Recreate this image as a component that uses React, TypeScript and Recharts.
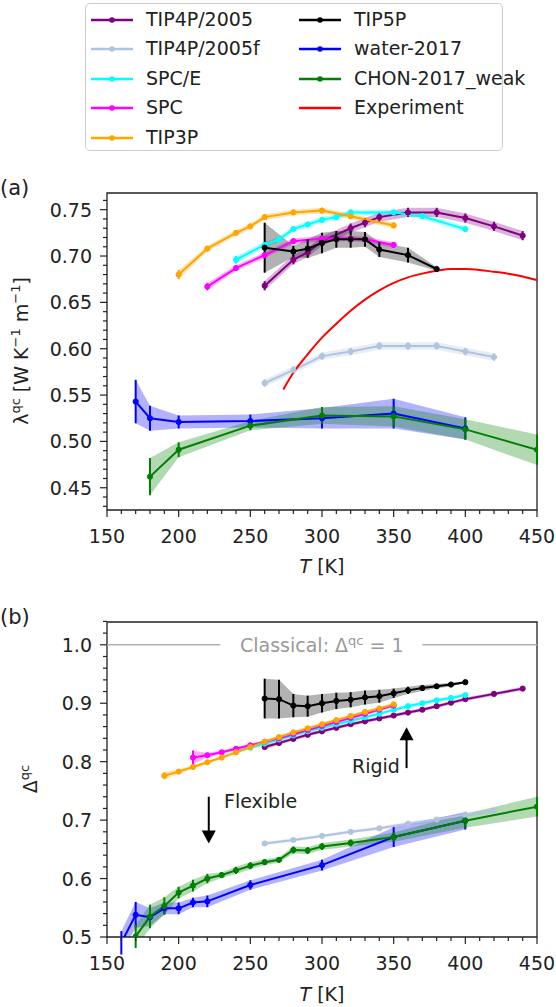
import React from "react";
import {
  Area,
  ComposedChart,
  ErrorBar,
  Line,
  ReferenceArea,
  ReferenceDot,
  ReferenceLine,
  XAxis,
  YAxis,
} from "recharts";

const FONT = "'DejaVu Sans', 'Liberation Sans', sans-serif";
const INK = "#222";

const PURPLE = "#800080";
const STEEL = "#b0c4de";
const CYAN = "#00ffff";
const MAGENTA = "#ff00ff";
const ORANGE = "#ffa500";
const BLACK = "#000000";
const BLUE = "#0000ff";
const GREEN = "#008000";
const RED = "#ff0000";

// ticks
const X_MAJOR = [150, 200, 250, 300, 350, 400, 450];
const A_Y_MAJOR = [0.45, 0.5, 0.55, 0.6, 0.65, 0.7, 0.75];
const B_Y_MAJOR = [0.5, 0.6, 0.7, 0.8, 0.9, 1.0];
const X_DOMAIN: [number, number] = [150, 450];
const A_Y_DOMAIN: [number, number] = [0.426, 0.768];
const B_Y_DOMAIN: [number, number] = [0.5, 1.039];

// (a) lambda^qc
const A_TIP4P_T = [260, 280, 290, 300, 320, 330, 340, 360, 380, 400, 420, 440];
const A_TIP4P_V = [0.668, 0.696, 0.704, 0.716, 0.73, 0.736, 0.742, 0.747, 0.747, 0.741, 0.732, 0.722];
const A_TIP4P_E = [0.005, 0.005, 0.005, 0.005, 0.005, 0.005, 0.005, 0.005, 0.005, 0.005, 0.005, 0.005];

const A_TIP4PF_T = [260, 280, 300, 320, 340, 360, 380, 400, 420];
const A_TIP4PF_V = [0.563, 0.577, 0.592, 0.597, 0.603, 0.603, 0.603, 0.597, 0.591];
const A_TIP4PF_E = [0.004, 0.004, 0.004, 0.004, 0.004, 0.004, 0.004, 0.004, 0.004];

const A_SPCE_T = [240, 260, 270, 280, 290, 300, 310, 320, 350, 370, 400];
const A_SPCE_V = [0.696, 0.712, 0.718, 0.729, 0.734, 0.739, 0.742, 0.747, 0.747, 0.743, 0.729];
const A_SPCE_E = [0.004, 0.003, 0.003, 0.003, 0.003, 0.003, 0.003, 0.003, 0.003, 0.003, 0.003];

const A_SPC_T = [220, 240, 260, 280, 300, 320, 330, 350];
const A_SPC_V = [0.667, 0.687, 0.701, 0.716, 0.719, 0.719, 0.718, 0.712];
const A_SPC_E = [0.004, 0.003, 0.003, 0.003, 0.003, 0.003, 0.003, 0.003];

const A_TIP3P_T = [200, 220, 240, 250, 260, 280, 300, 320, 350];
const A_TIP3P_V = [0.68, 0.708, 0.725, 0.732, 0.742, 0.747, 0.749, 0.743, 0.733];
const A_TIP3P_E = [0.005, 0.003, 0.003, 0.003, 0.003, 0.003, 0.003, 0.003, 0.003];

const A_TIP5P_T = [260, 280, 290, 300, 310, 320, 330, 340, 360, 380];
const A_TIP5P_V = [0.709, 0.705, 0.708, 0.714, 0.718, 0.718, 0.718, 0.707, 0.701, 0.686];
const A_TIP5P_E = [0.027, 0.006, 0.01, 0.011, 0.009, 0.009, 0.008, 0.008, 0.008, 0.002];

const A_W17_T = [170, 180, 200, 250, 300, 350, 400];
const A_W17_V = [0.543, 0.525, 0.521, 0.522, 0.525, 0.53, 0.514];
const A_W17_E = [0.0235, 0.0135, 0.007, 0.007, 0.011, 0.016, 0.012];

const A_CHON_T = [180, 200, 250, 300, 350, 400, 450];
const A_CHON_V = [0.462, 0.491, 0.517, 0.528, 0.527, 0.513, 0.491];
const A_CHON_E = [0.02, 0.008, 0.005, 0.009, 0.011, 0.011, 0.0165];

const A_EXP_T = [273, 280, 290, 300, 310, 320, 330, 340, 350, 360, 370, 380, 390, 400, 410, 420, 430, 440, 450];
const A_EXP_V = [0.556, 0.574, 0.594, 0.612, 0.627, 0.641, 0.653, 0.663, 0.671, 0.677, 0.681, 0.684, 0.686, 0.686, 0.685, 0.683, 0.681, 0.678, 0.674];

// (b) Delta^qc
const B_TIP4P_T = [260, 270, 280, 290, 300, 310, 320, 330, 340, 350, 360, 370, 380, 390, 400, 420, 440];
const B_TIP4P_V = [0.825, 0.832, 0.839, 0.846, 0.852, 0.858, 0.864, 0.869, 0.874, 0.879, 0.884, 0.889, 0.895, 0.901, 0.907, 0.916, 0.925];
const B_TIP4P_E = [0.004, 0.003, 0.003, 0.003, 0.003, 0.003, 0.003, 0.003, 0.003, 0.003, 0.003, 0.003, 0.003, 0.003, 0.003, 0.003, 0.003];

const B_TIP4PF_T = [260, 280, 300, 320, 340, 360, 380, 400, 420];
const B_TIP4PF_V = [0.66, 0.666, 0.673, 0.68, 0.686, 0.694, 0.701, 0.709, 0.716];
const B_TIP4PF_E = [0.003, 0.003, 0.003, 0.003, 0.003, 0.003, 0.003, 0.003, 0.003];

const B_SPCE_T = [240, 250, 260, 270, 280, 290, 300, 310, 320, 330, 340, 350, 360, 370, 380, 390, 400];
const B_SPCE_V = [0.817, 0.824, 0.831, 0.838, 0.845, 0.852, 0.858, 0.864, 0.87, 0.876, 0.882, 0.889, 0.895, 0.9, 0.905, 0.909, 0.914];
const B_SPCE_E = [0.003, 0.003, 0.003, 0.003, 0.003, 0.003, 0.003, 0.003, 0.003, 0.003, 0.003, 0.003, 0.003, 0.003, 0.003, 0.003, 0.003];

const B_SPC_T = [210, 220, 230, 240, 250, 260, 270, 280, 290, 300, 310, 320, 330, 340, 350];
const B_SPC_V = [0.807, 0.811, 0.816, 0.822, 0.828, 0.834, 0.84, 0.847, 0.854, 0.861, 0.868, 0.875, 0.882, 0.889, 0.896];
const B_SPC_E = [0.012, 0.004, 0.003, 0.003, 0.003, 0.003, 0.003, 0.003, 0.003, 0.003, 0.003, 0.003, 0.003, 0.003, 0.003];

const B_TIP3P_T = [190, 200, 210, 220, 230, 240, 250, 260, 270, 280, 290, 300, 310, 320, 330, 340, 350];
const B_TIP3P_V = [0.776, 0.783, 0.791, 0.799, 0.807, 0.816, 0.825, 0.834, 0.842, 0.85, 0.857, 0.864, 0.871, 0.878, 0.885, 0.891, 0.898];
const B_TIP3P_E = [0.006, 0.004, 0.003, 0.003, 0.003, 0.003, 0.003, 0.003, 0.003, 0.003, 0.003, 0.003, 0.003, 0.003, 0.003, 0.003, 0.003];

const B_TIP5P_T = [260, 270, 280, 290, 300, 310, 320, 330, 340, 350, 360, 370, 380, 390, 400];
const B_TIP5P_V = [0.908, 0.907, 0.896, 0.895, 0.9, 0.904, 0.906, 0.91, 0.912, 0.917, 0.922, 0.926, 0.929, 0.932, 0.936];
const B_TIP5P_E = [0.034, 0.033, 0.02, 0.018, 0.016, 0.014, 0.013, 0.012, 0.011, 0.008, 0.006, 0.005, 0.004, 0.003, 0.002];

const B_W17_T = [160, 170, 180, 190, 200, 210, 220, 250, 300, 350, 400];
const B_W17_V = [0.49, 0.538, 0.534, 0.549, 0.549, 0.559, 0.561, 0.589, 0.623, 0.671, 0.699];
const B_W17_E = [0.02, 0.022, 0.015, 0.01, 0.01, 0.008, 0.01, 0.008, 0.009, 0.017, 0.015];

const B_CHON_T = [170, 180, 190, 200, 210, 220, 230, 240, 250, 260, 270, 280, 290, 300, 320, 350, 400, 450];
const B_CHON_V = [0.501, 0.535, 0.553, 0.576, 0.588, 0.6, 0.606, 0.614, 0.622, 0.628, 0.632, 0.649, 0.648, 0.655, 0.661, 0.671, 0.699, 0.723];
const B_CHON_E = [0.02, 0.02, 0.015, 0.01, 0.01, 0.008, 0.005, 0.006, 0.006, 0.005, 0.005, 0.006, 0.006, 0.006, 0.006, 0.008, 0.012, 0.017];

// annotations in (b), data coordinates
const CLASSICAL_LEFT = [150, 229];
const CLASSICAL_RIGHT = [370, 450];
const FLEX_ARROW = { t: 221, from: 0.74, to: 0.66 };
const RIGID_ARROW = { t: 359, from: 0.789, to: 0.859 };

const LEGEND = [
  { name: "TIP4P/2005", color: PURPLE, dot: true },
  { name: "TIP4P/2005f", color: STEEL, dot: true },
  { name: "SPC/E", color: CYAN, dot: true },
  { name: "SPC", color: MAGENTA, dot: true },
  { name: "TIP3P", color: ORANGE, dot: true },
  { name: "TIP5P", color: BLACK, dot: true },
  { name: "water-2017", color: BLUE, dot: true },
  { name: "CHON-2017_weak", color: GREEN, dot: true },
  { name: "Experiment", color: RED, dot: false },
];

type Row = { t: number; v: number; e: number; band: [number, number] };
const rows = (t: number[], v: number[], e: number[]): Row[] =>
  t.map((x, i) => ({ t: x, v: v[i], e: e[i], band: [v[i] - e[i], v[i] + e[i]] }));

type Series = { key: string; color: string; data: Row[] };

const SERIES_A: Series[] = [
  { key: "tip4p", color: PURPLE, data: rows(A_TIP4P_T, A_TIP4P_V, A_TIP4P_E) },
  { key: "tip4pf", color: STEEL, data: rows(A_TIP4PF_T, A_TIP4PF_V, A_TIP4PF_E) },
  { key: "spce", color: CYAN, data: rows(A_SPCE_T, A_SPCE_V, A_SPCE_E) },
  { key: "spc", color: MAGENTA, data: rows(A_SPC_T, A_SPC_V, A_SPC_E) },
  { key: "tip3p", color: ORANGE, data: rows(A_TIP3P_T, A_TIP3P_V, A_TIP3P_E) },
  { key: "tip5p", color: BLACK, data: rows(A_TIP5P_T, A_TIP5P_V, A_TIP5P_E) },
  { key: "w17", color: BLUE, data: rows(A_W17_T, A_W17_V, A_W17_E) },
  { key: "chon", color: GREEN, data: rows(A_CHON_T, A_CHON_V, A_CHON_E) },
];
const EXP_A = A_EXP_T.map((t, i) => ({ t, v: A_EXP_V[i] }));

const SERIES_B: Series[] = [
  { key: "tip4p", color: PURPLE, data: rows(B_TIP4P_T, B_TIP4P_V, B_TIP4P_E) },
  { key: "tip4pf", color: STEEL, data: rows(B_TIP4PF_T, B_TIP4PF_V, B_TIP4PF_E) },
  { key: "spce", color: CYAN, data: rows(B_SPCE_T, B_SPCE_V, B_SPCE_E) },
  { key: "spc", color: MAGENTA, data: rows(B_SPC_T, B_SPC_V, B_SPC_E) },
  { key: "tip3p", color: ORANGE, data: rows(B_TIP3P_T, B_TIP3P_V, B_TIP3P_E) },
  { key: "tip5p", color: BLACK, data: rows(B_TIP5P_T, B_TIP5P_V, B_TIP5P_E) },
  { key: "w17", color: BLUE, data: rows(B_W17_T, B_W17_V, B_W17_E) },
  { key: "chon", color: GREEN, data: rows(B_CHON_T, B_CHON_V, B_CHON_E) },
];

const steps = (a: number, b: number, s: number) => {
  const out: number[] = [];
  for (let v = a; v <= b + 1e-9; v += s) out.push(Math.round(v * 1000) / 1000);
  return out;
};
const X_TICKS = steps(150, 450, 10);
const A_Y_TICKS = steps(0.43, 0.76, 0.01);
const B_Y_TICKS = steps(0.5, 1.04, 0.02);

const isIn = (list: number[], v: number) => list.some((m) => Math.abs(m - v) < 1e-6);

const XTick = (p: any) => {
  const v = p.payload.value;
  const major = isIn(X_MAJOR, v);
  return (
    <g>
      <line x1={p.x} x2={p.x} y1={p.y} y2={p.y + (major ? 7 : 4)} stroke={INK} strokeWidth={1.2} />
      {major && (
        <text x={p.x} y={p.y + 33} textAnchor="middle" fontSize={19} fontFamily={FONT} fill={INK}>
          {v}
        </text>
      )}
    </g>
  );
};

const makeYTick = (majors: number[], digits: number) => (p: any) => {
  const v = p.payload.value;
  const major = isIn(majors, v);
  return (
    <g>
      <line x1={p.x} x2={p.x - (major ? 7 : 4)} y1={p.y} y2={p.y} stroke={INK} strokeWidth={1.2} />
      {major && (
        <text x={p.x - 15} y={p.y + 7} textAnchor="end" fontSize={19} fontFamily={FONT} fill={INK}>
          {v.toFixed(digits)}
        </text>
      )}
    </g>
  );
};

const renderSeries = (list: Series[]) =>
  list.flatMap((s) => [
    <Area
      key={`${s.key}-band`}
      data={s.data}
      dataKey="band"
      type="linear"
      stroke="none"
      fill={s.color}
      fillOpacity={0.3}
      isAnimationActive={false}
    />,
    <Line
      key={`${s.key}-line`}
      data={s.data}
      dataKey="v"
      type="linear"
      stroke={s.color}
      strokeWidth={2}
      dot={{ r: 2.6, fill: s.color, stroke: s.color, strokeWidth: 1 }}
      isAnimationActive={false}
    >
      <ErrorBar dataKey="e" width={0} stroke={s.color} strokeWidth={2} direction="y" />
    </Line>,
  ]);

const ArrowHead = (down: boolean) => (p: any) => {
  const { cx, cy } = p;
  const h = 13;
  const w = 7;
  const base = down ? cy - h : cy + h;
  return <polygon points={`${cx},${cy} ${cx - w},${base} ${cx + w},${base}`} fill={BLACK} />;
};

const abs = (left: number, top: number, extra: React.CSSProperties = {}): React.CSSProperties => ({
  position: "absolute",
  left,
  top,
  fontFamily: FONT,
  fontSize: 19,
  color: INK,
  whiteSpace: "nowrap",
  lineHeight: 1,
  ...extra,
});

function Legend() {
  return (
    <div
      style={{
        position: "absolute",
        left: 85,
        top: 3,
        width: 416,
        height: 146,
        border: "1px solid #cccccc",
        borderRadius: 5,
        background: "rgba(255,255,255,0.8)",
      }}
    >
      {LEGEND.map((l, i) => {
        const col = i < 5 ? 0 : 1;
        const row = i < 5 ? i : i - 5;
        const cy = 15.5 + row * 29.5;
        const hx = col === 0 ? 5 : 213;
        return (
          <div key={l.name}>
            <svg style={{ position: "absolute", left: hx, top: cy - 6 }} width={42} height={12}>
              <line x1={0} x2={42} y1={6} y2={6} stroke={l.color} strokeWidth={2.5} />
              {l.dot && <circle cx={21} cy={6} r={2.8} fill={l.color} />}
            </svg>
            <span style={abs(hx + 55, cy - 10)}>{l.name}</span>
          </div>
        );
      })}
    </div>
  );
}

export default function App() {
  return (
    <div style={{ position: "absolute", left: 0, top: 0, width: 556, height: 1007, background: "#fff" }}>
      <Legend />

      {/* (a) */}
      <span style={abs(0, 178, { fontSize: 21 })}>(a)</span>
      <div style={{ position: "absolute", left: 0, top: 160 }}>
        <ComposedChart width={556} height={410} margin={{ top: 33, right: 19, bottom: 59, left: 106 }}>
          <XAxis
            dataKey="t"
            type="number"
            domain={X_DOMAIN}
            allowDataOverflow
            ticks={X_TICKS}
            interval={0}
            height={1}
            tickSize={0}
            tickMargin={0}
            tickLine={false}
            axisLine={false}
            tick={XTick}
          />
          <YAxis
            type="number"
            domain={A_Y_DOMAIN}
            allowDataOverflow
            ticks={A_Y_TICKS}
            interval={0}
            width={1}
            tickSize={0}
            tickMargin={0}
            tickLine={false}
            axisLine={false}
            tick={makeYTick(A_Y_MAJOR, 2)}
          />
          {renderSeries(SERIES_A)}
          <Line
            data={EXP_A}
            dataKey="v"
            type="monotone"
            stroke={RED}
            strokeWidth={2}
            dot={false}
            isAnimationActive={false}
          />
          <ReferenceArea
            x1={X_DOMAIN[0]}
            x2={X_DOMAIN[1]}
            y1={A_Y_DOMAIN[0]}
            y2={A_Y_DOMAIN[1]}
            fill="none"
            fillOpacity={0}
            stroke={INK}
            strokeWidth={1.3}
          />
        </ComposedChart>
      </div>
      <div
        style={abs(20, 351, {
          transform: "translate(-50%, -50%) rotate(-90deg)",
        })}
      >
        λ<sup style={{ fontSize: 13 }}>qc</sup> [W K<sup style={{ fontSize: 13 }}>−1</sup> m<sup style={{ fontSize: 13 }}>−1</sup>]
      </div>
      <div style={abs(322, 566, { transform: "translate(-50%, -50%)" })}>
        <i>T</i> [K]
      </div>

      {/* (b) */}
      <span style={abs(0, 607, { fontSize: 21 })}>(b)</span>
      <div style={{ position: "absolute", left: 0, top: 590 }}>
        <ComposedChart width={556} height={417} margin={{ top: 32, right: 19, bottom: 69, left: 106 }}>
          <XAxis
            dataKey="t"
            type="number"
            domain={X_DOMAIN}
            allowDataOverflow
            ticks={X_TICKS}
            interval={0}
            height={1}
            tickSize={0}
            tickMargin={0}
            tickLine={false}
            axisLine={false}
            tick={XTick}
          />
          <YAxis
            type="number"
            domain={B_Y_DOMAIN}
            allowDataOverflow
            ticks={B_Y_TICKS}
            interval={0}
            width={1}
            tickSize={0}
            tickMargin={0}
            tickLine={false}
            axisLine={false}
            tick={makeYTick(B_Y_MAJOR, 1)}
          />
          <ReferenceLine
            segment={[{ x: CLASSICAL_LEFT[0], y: 1 }, { x: CLASSICAL_LEFT[1], y: 1 }]}
            stroke="#b0b0b0"
            strokeWidth={1.5}
          />
          <ReferenceLine
            segment={[{ x: CLASSICAL_RIGHT[0], y: 1 }, { x: CLASSICAL_RIGHT[1], y: 1 }]}
            stroke="#b0b0b0"
            strokeWidth={1.5}
          />
          {renderSeries(SERIES_B)}
          <ReferenceLine
            segment={[{ x: FLEX_ARROW.t, y: FLEX_ARROW.from }, { x: FLEX_ARROW.t, y: FLEX_ARROW.to + 0.02 }]}
            stroke={BLACK}
            strokeWidth={2}
          />
          <ReferenceDot x={FLEX_ARROW.t} y={FLEX_ARROW.to} r={1} shape={ArrowHead(true)} />
          <ReferenceLine
            segment={[{ x: RIGID_ARROW.t, y: RIGID_ARROW.from }, { x: RIGID_ARROW.t, y: RIGID_ARROW.to - 0.02 }]}
            stroke={BLACK}
            strokeWidth={2}
          />
          <ReferenceDot x={RIGID_ARROW.t} y={RIGID_ARROW.to} r={1} shape={ArrowHead(false)} />
          <ReferenceArea
            x1={X_DOMAIN[0]}
            x2={X_DOMAIN[1]}
            y1={B_Y_DOMAIN[0]}
            y2={B_Y_DOMAIN[1]}
            fill="none"
            fillOpacity={0}
            stroke={INK}
            strokeWidth={1.3}
          />
        </ComposedChart>
      </div>
      <div style={abs(240, 634, { color: "#999999" })}>
        Classical: Δ<sup style={{ fontSize: 13 }}>qc</sup> = 1
      </div>
      <div style={abs(224, 792)}>Flexible</div>
      <div style={abs(352, 757)}>Rigid</div>
      <div
        style={abs(29, 779, {
          transform: "translate(-50%, -50%) rotate(-90deg)",
        })}
      >
        Δ<sup style={{ fontSize: 13 }}>qc</sup>
      </div>
      <div style={abs(322, 994, { transform: "translate(-50%, -50%)" })}>
        <i>T</i> [K]
      </div>
    </div>
  );
}
